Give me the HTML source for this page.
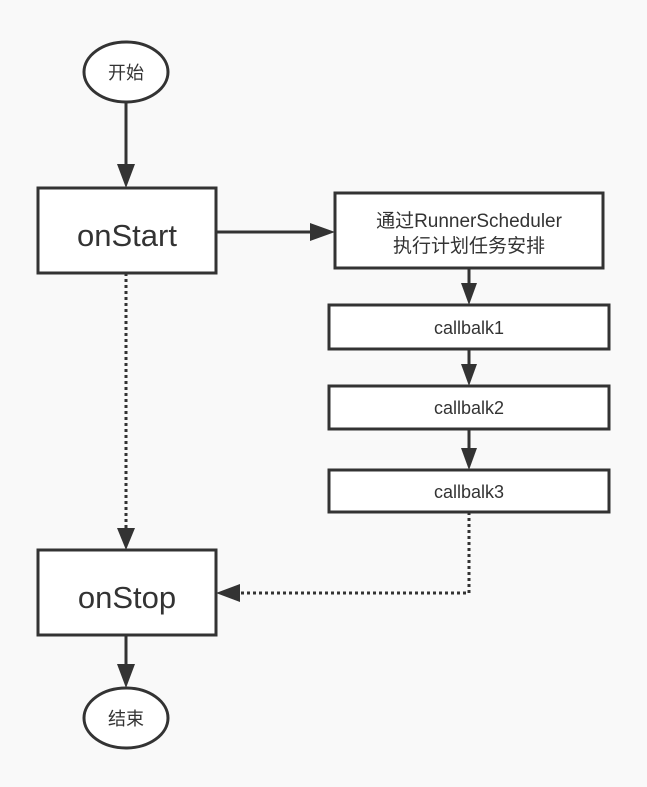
<!DOCTYPE html>
<html><head><meta charset="utf-8"><style>
html,body{margin:0;padding:0;background:#f9f9f9;}
svg{display:block;}
text{font-family:"Liberation Sans","Noto Sans CJK SC",sans-serif;fill:#333;}
</style></head><body>
<svg width="647" height="787" viewBox="0 0 647 787" xmlns="http://www.w3.org/2000/svg">
<rect width="647" height="787" fill="#f9f9f9"/>
<g stroke="#333" stroke-width="3" fill="none">
<line x1="126" y1="102" x2="126" y2="166"/>
<line x1="216" y1="232" x2="312" y2="232"/>
<line x1="469" y1="268" x2="469" y2="285"/>
<line x1="469" y1="349" x2="469" y2="366"/>
<line x1="469" y1="429" x2="469" y2="450"/>
<line x1="126" y1="635" x2="126" y2="666"/>
<line x1="126" y1="273" x2="126" y2="530" stroke-dasharray="3 3"/>
<polyline points="469,512 469,593 240,593" stroke-dasharray="3 3"/>
</g>
<g fill="#333">
<polygon points="117,164 135,164 126,188"/>
<polygon points="310,223 310,241 335,232"/>
<polygon points="461,283 477,283 469,305"/>
<polygon points="461,364 477,364 469,386"/>
<polygon points="461,448 477,448 469,470"/>
<polygon points="117,528 135,528 126,550"/>
<polygon points="240,584 240,602 216,593"/>
<polygon points="117,664 135,664 126,688"/>
</g>
<g stroke="#333" stroke-width="3" fill="#fff">
<ellipse cx="126" cy="72" rx="42" ry="30"/>
<rect x="38" y="188" width="178" height="85"/>
<rect x="335" y="193" width="268" height="75"/>
<rect x="329" y="305" width="280" height="44"/>
<rect x="329" y="386" width="280" height="43"/>
<rect x="329" y="470" width="280" height="42"/>
<rect x="38" y="550" width="178" height="85"/>
<ellipse cx="126" cy="718" rx="42" ry="30"/>
</g>
<g text-anchor="middle">
<text x="126" y="79" font-size="18">开始</text>
<text x="127" y="246" font-size="31">onStart</text>
<text x="469" y="227" font-size="19">通过RunnerScheduler</text>
<text x="469" y="252" font-size="19">执行计划任务安排</text>
<text x="469" y="334" font-size="18">callbalk1</text>
<text x="469" y="414" font-size="18">callbalk2</text>
<text x="469" y="498" font-size="18">callbalk3</text>
<text x="127" y="608" font-size="31">onStop</text>
<text x="126" y="725" font-size="18">结束</text>
</g>
</svg>
</body></html>
